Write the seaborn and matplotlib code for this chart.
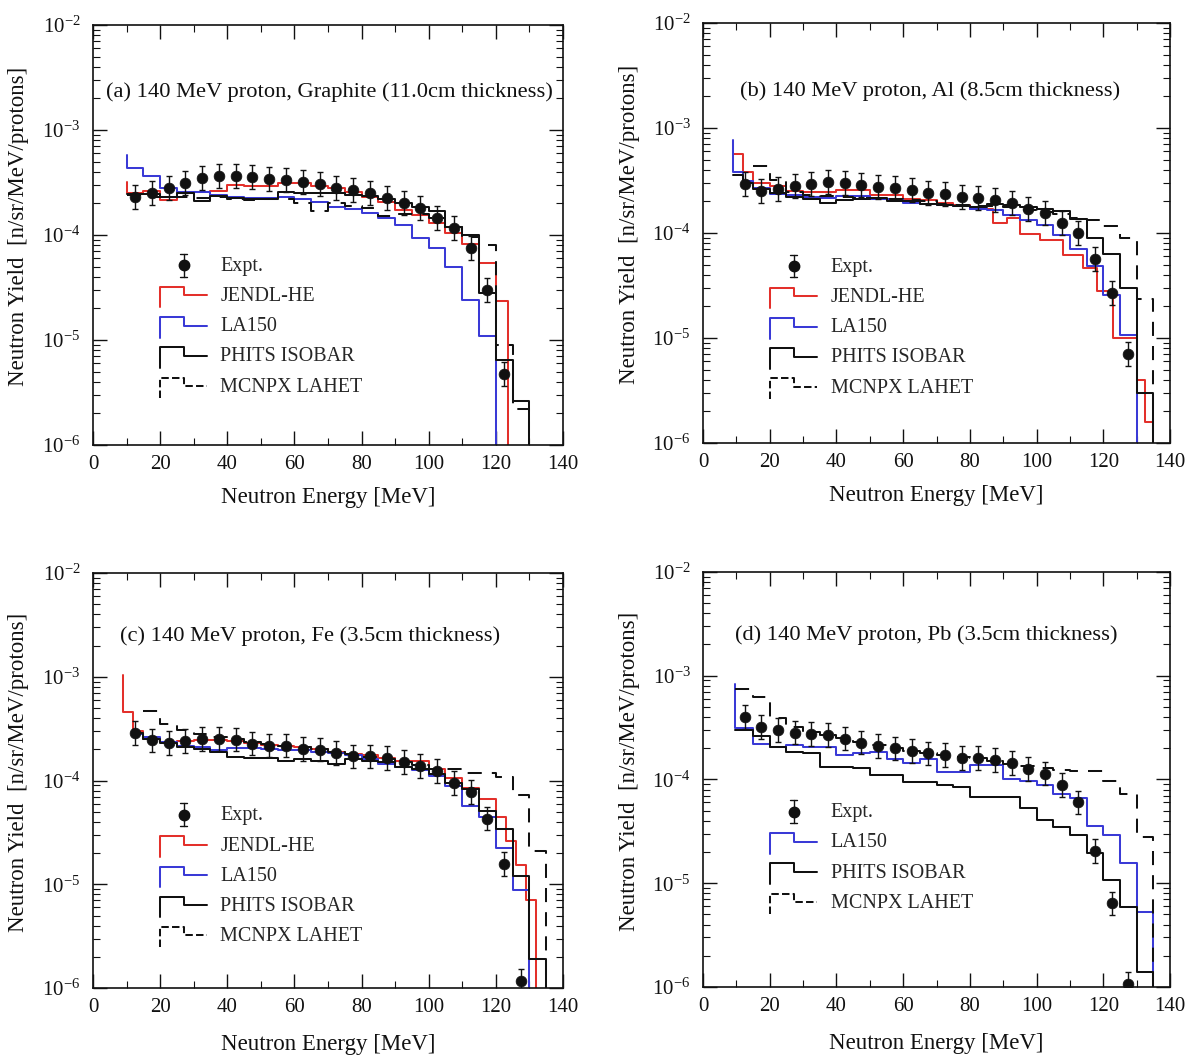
import numpy as np
import pandas as pd
import matplotlib
matplotlib.use("Agg")
import matplotlib.pyplot as plt
import seaborn as sns
from matplotlib.lines import Line2D
from matplotlib.legend_handler import HandlerBase
from matplotlib.ticker import LogLocator, MultipleLocator, NullFormatter

# ---------------- data ----------------
E_EXPT = [12.5, 17.5, 22.5, 27.5, 32.5, 37.5, 42.5, 47.5, 52.5, 57.5, 62.5, 67.5,
          72.5, 77.5, 82.5, 87.5, 92.5, 97.5, 102.5, 107.5, 112.5, 117.5, 122.5, 127.5]
ERR_FACTOR = 1.3

EDGES_A = [10, 15, 20, 25, 30, 35, 40, 45, 50, 55, 60, 65, 70, 75, 80, 85, 90, 95,
           100, 105, 110, 115, 120, 125, 130]
EDGES_BC = [9, 12, 15, 20, 25, 30, 35, 40, 45, 50, 55, 60, 65, 70, 75, 80, 85, 90, 95,
            100, 105, 110, 115, 120, 125, 130, 135]
EDGES_B_JENDL = [9, 12, 15, 20, 25, 30, 35, 40, 45, 50, 55, 60, 65, 70, 75, 80, 87, 91,
                 95, 101, 108, 114, 118, 123, 130, 132.5, 135]
EDGES_C_JENDL = [9, 12, 15, 20, 25, 30, 35, 40, 45, 50, 55, 60, 65, 70, 75, 80, 85, 90,
                 95, 100, 105, 110, 115, 120, 123, 126, 129, 132]
EDGES_D = [9.5, 15, 20, 25, 30, 35, 40, 45, 50, 55, 60, 65, 70, 75, 80, 85, 90, 95,
           100, 105, 110, 115, 120, 125, 130, 135]

# (a) Graphite
a_expt = [2.32e-4, 2.49e-4, 2.79e-4, 3.10e-4, 3.47e-4, 3.65e-4, 3.65e-4, 3.54e-4, 3.39e-4,
          3.34e-4, 3.18e-4, 3.04e-4, 2.82e-4, 2.68e-4, 2.49e-4, 2.23e-4, 2.03e-4, 1.80e-4,
          1.44e-4, 1.16e-4, 7.5e-5, 2.99e-5, 4.7e-6]
a_jendl = [2.5e-4, 2.65e-4, 2.15e-4, 2.5e-4, 2.55e-4, 2.65e-4, 3.0e-4, 2.95e-4, 2.95e-4,
           3.15e-4, 3.1e-4, 2.95e-4, 2.8e-4, 2.55e-4, 2.32e-4, 2.07e-4, 1.73e-4, 1.55e-4,
           1.29e-4, 1.05e-4, 8.2e-5, 5.4e-5, 2.35e-5, None]
a_la150 = [4.3e-4, 3.65e-4, 2.8e-4, 2.59e-4, 2.59e-4, 2.4e-4, 2.32e-4, 2.27e-4, 2.27e-4,
           2.32e-4, 2.2e-4, 2.07e-4, 1.85e-4, 1.75e-4, 1.61e-4, 1.44e-4, 1.24e-4, 9.3e-5,
           7.6e-5, 5.0e-5, 2.4e-5, 1.1e-5, None, None]
a_phits = [2.45e-4, 2.45e-4, 2.3e-4, 2.5e-4, 2.1e-4, 2.35e-4, 2.25e-4, 2.2e-4, 2.2e-4,
           2.55e-4, 2.5e-4, 2.5e-4, 2.5e-4, 2.4e-4, 2.35e-4, 2.2e-4, 2.0e-4, 1.85e-4,
           1.7e-4, 1.2e-4, 1.0e-4, 2.8e-5, 6.5e-6, 2.6e-6]
a_mcnpx = [2.4e-4, 2.3e-4, 2.3e-4, 2.3e-4, 2.25e-4, 2.3e-4, 2.2e-4, 2.15e-4, 2.2e-4,
           2.2e-4, 2.0e-4, 1.7e-4, 2.0e-4, 1.9e-4, 1.8e-4, 1.52e-4, 1.6e-4, 1.6e-4,
           1.45e-4, 1.2e-4, 9.5e-5, 8.0e-5, 9e-6, 2.2e-6]

# (b) Al
b_expt = [2.93e-4, 2.53e-4, 2.61e-4, 2.8e-4, 2.93e-4, 3.08e-4, 2.97e-4, 2.86e-4, 2.76e-4,
          2.66e-4, 2.57e-4, 2.39e-4, 2.33e-4, 2.22e-4, 2.17e-4, 2.06e-4, 1.92e-4, 1.68e-4,
          1.54e-4, 1.25e-4, 1.0e-4, 5.7e-5, 2.66e-5, 7.0e-6]
b_jendl = [5.7e-4, 3.84e-4, 3.0e-4, 2.8e-4, 2.5e-4, 2.45e-4, 2.45e-4, 2.55e-4, 2.55e-4,
           2.3e-4, 2.3e-4, 2.1e-4, 2.05e-4, 1.95e-4, 1.85e-4, 1.68e-4, 1.24e-4, 1.38e-4,
           9.8e-5, 8.6e-5, 6.2e-5, 4.6e-5, 2.8e-5, 1.0e-5, 4.0e-6, 1.6e-6]
b_la150 = [3.8e-4, 3.1e-4, 2.7e-4, 2.35e-4, 2.3e-4, 2.2e-4, 2.15e-4, 2.25e-4, 2.25e-4,
           2.1e-4, 2.1e-4, 1.95e-4, 1.9e-4, 1.85e-4, 1.8e-4, 1.7e-4, 1.66e-4, 1.48e-4,
           1.33e-4, 1.19e-4, 9.6e-5, 7.1e-5, 4.8e-5, 2.57e-5, 1.07e-5, None]
b_phits = [3.6e-4, 3.0e-4, 2.6e-4, 2.4e-4, 2.2e-4, 2.1e-4, 1.95e-4, 2.05e-4, 2.1e-4,
           2.15e-4, 2.0e-4, 2.0e-4, 1.9e-4, 1.85e-4, 1.8e-4, 1.75e-4, 1.9e-4, 1.85e-4,
           1.75e-4, 1.7e-4, 1.62e-4, 1.36e-4, 8.9e-5, 6.3e-5, 2.97e-5, 3.0e-6]
b_mcnpx = [None, None, 4.3e-4, 3.2e-4, 2.45e-4, 2.3e-4, 2.25e-4, 2.2e-4, 2.15e-4,
           2.15e-4, 2.1e-4, 2.05e-4, 2.0e-4, 1.9e-4, 1.85e-4, 1.8e-4, 1.8e-4, 1.75e-4,
           1.65e-4, 1.6e-4, 1.5e-4, 1.4e-4, 1.33e-4, 1.17e-4, 9.0e-5, 2.35e-5]

# (c) Fe
c_expt = [2.87e-4, 2.44e-4, 2.3e-4, 2.39e-4, 2.52e-4, 2.52e-4, 2.48e-4, 2.27e-4, 2.17e-4,
          2.17e-4, 2.02e-4, 1.99e-4, 1.85e-4, 1.71e-4, 1.71e-4, 1.65e-4, 1.5e-4, 1.39e-4,
          1.23e-4, 9.5e-5, 7.7e-5, 4.3e-5, 1.56e-5, 1.17e-6]
c_jendl = [4.6e-4, 3.0e-4, 2.5e-4, 2.35e-4, 2.4e-4, 2.45e-4, 2.45e-4, 2.4e-4, 2.3e-4,
           2.2e-4, 2.15e-4, 2.1e-4, 2.0e-4, 1.9e-4, 1.8e-4, 1.75e-4, 1.65e-4, 1.55e-4,
           1.55e-4, 1.3e-4, 1.05e-4, 8.5e-5, 6.6e-5, 4.5e-5, 2.6e-5, 1.55e-5, 7.0e-6]
c_la150 = [None, 2.8e-4, 2.6e-4, 2.35e-4, 2.15e-4, 2.1e-4, 1.95e-4, 2.05e-4, 2.05e-4,
           2.0e-4, 1.95e-4, 1.95e-4, 1.9e-4, 1.85e-4, 1.75e-4, 1.6e-4, 1.45e-4, 1.35e-4,
           1.25e-4, 1.1e-4, 8.8e-5, 5.7e-5, 4.5e-5, 2.25e-5, 8.9e-6, None]
c_phits = [None, 2.9e-4, 2.5e-4, 2.3e-4, 2.1e-4, 2.0e-4, 1.9e-4, 1.7e-4, 1.65e-4,
           1.65e-4, 1.55e-4, 1.6e-4, 1.55e-4, 1.45e-4, 1.6e-4, 1.55e-4, 1.5e-4, 1.35e-4,
           1.3e-4, 1.15e-4, 9.5e-5, 8.2e-5, 5.1e-5, 3.4e-5, 1.2e-5, 1.9e-6]
c_mcnpx = [None, None, 4.7e-4, 3.5e-4, 3.05e-4, 2.8e-4, 2.6e-4, 2.5e-4, 2.35e-4,
           2.25e-4, 2.15e-4, 2.1e-4, 2.0e-4, 1.9e-4, 1.8e-4, 1.7e-4, 1.6e-4, 1.5e-4,
           1.4e-4, 1.3e-4, 1.28e-4, 1.17e-4, 1.17e-4, 1.09e-4, 7.3e-5, 2.1e-5]

# (d) Pb
d_expt = [4.0e-4, 3.21e-4, 2.98e-4, 2.83e-4, 2.73e-4, 2.67e-4, 2.48e-4, 2.27e-4, 2.11e-4,
          1.99e-4, 1.87e-4, 1.78e-4, 1.71e-4, 1.62e-4, 1.62e-4, 1.53e-4, 1.45e-4, 1.26e-4,
          1.14e-4, 8.8e-5, 6.0e-5, 2.05e-5, 6.4e-6, 1.08e-6]
d_la150 = [3.1e-4, 2.2e-4, 2.06e-4, 2.14e-4, 2.06e-4, 2.06e-4, 1.71e-4, 1.78e-4, 1.85e-4,
           1.59e-4, 1.43e-4, 1.59e-4, 1.19e-4, 1.19e-4, 1.37e-4, 1.37e-4, 1.02e-4, 9.6e-5,
           8.8e-5, 7.3e-5, 6.6e-5, 3.6e-5, 2.9e-5, 1.56e-5, 5.3e-6]
d_phits = [3.0e-4, 2.6e-4, 2.06e-4, 1.85e-4, 1.8e-4, 1.32e-4, 1.32e-4, 1.29e-4, 1.1e-4,
           1.1e-4, 9.5e-5, 9.5e-5, 8.8e-5, 8.5e-5, 6.8e-5, 6.8e-5, 6.8e-5, 5.3e-5,
           4.1e-5, 3.5e-5, 2.9e-5, 1.94e-5, 1.08e-5, 5.9e-6, 1.4e-6]
d_mcnpx = [7.5e-4, 6.2e-4, 3.9e-4, 3.2e-4, 2.9e-4, 2.7e-4, 2.5e-4, 2.3e-4, 2.15e-4,
           2.0e-4, 1.9e-4, 1.8e-4, 1.72e-4, 1.65e-4, 1.6e-4, 1.5e-4, 1.42e-4, 1.35e-4,
           1.3e-4, 1.23e-4, 1.22e-4, 1.2e-4, 9.7e-5, 7.3e-5, 2.8e-5]

TITLES = ["(a) 140 MeV proton, Graphite (11.0cm thickness)",
          "(b) 140 MeV proton, Al (8.5cm thickness)",
          "(c) 140 MeV proton, Fe (3.5cm thickness)",
          "(d) 140 MeV proton, Pb (3.5cm thickness)"]
X_TICKS = [0, 20, 40, 60, 80, 100, 120, 140]

# ---------------- style ----------------
sns.set_theme(style="ticks")
plt.rcParams["font.family"] = ["Liberation Serif", "DejaVu Serif"]
plt.rcParams["mathtext.fontset"] = "stix"
RED = "#e3302b"
BLUE = "#3a3ad6"
BLACK = "#111111"
LW = 1.45
FLOOR = 1e-9

STYLE = {
    "JENDL-HE": dict(color=RED, ls="-"),
    "LA150": dict(color=BLUE, ls="-"),
    "PHITS ISOBAR": dict(color=BLACK, ls="-"),
    "MCNPX LAHET": dict(color=BLACK, ls=(0, (7, 5))),
}

PANELS = [
    dict(expt=a_expt, series=[("JENDL-HE", EDGES_A, a_jendl, 3.2e-4, 123.5),
                              ("LA150", EDGES_A, a_la150, 5.8e-4, None),
                              ("PHITS ISOBAR", EDGES_A, a_phits, None, None),
                              ("MCNPX LAHET", EDGES_A, a_mcnpx, None, None)]),
    dict(expt=b_expt, series=[("JENDL-HE", EDGES_B_JENDL, b_jendl, 7.5e-4, None),
                              ("LA150", EDGES_BC, b_la150, 7.7e-4, None),
                              ("PHITS ISOBAR", EDGES_BC, b_phits, None, None),
                              ("MCNPX LAHET", EDGES_BC, b_mcnpx, None, None)]),
    dict(expt=c_expt, series=[("JENDL-HE", EDGES_C_JENDL, c_jendl, 1.05e-3, None),
                              ("LA150", EDGES_BC, c_la150, None, None),
                              ("PHITS ISOBAR", EDGES_BC, c_phits, None, None),
                              ("MCNPX LAHET", EDGES_BC, c_mcnpx, None, None)]),
    dict(expt=d_expt, series=[("LA150", EDGES_D, d_la150, 8.4e-4, None),
                              ("PHITS ISOBAR", EDGES_D, d_phits, None, None),
                              ("MCNPX LAHET", EDGES_D, d_mcnpx, None, None)]),
]

# axes rectangles (figure fraction)
RECTS = [[0.078, 0.5798, 0.3943, 0.3966],
         [0.5898, 0.5817, 0.3918, 0.3966],
         [0.078, 0.0670, 0.3943, 0.3919],
         [0.5898, 0.0680, 0.3918, 0.3919]]
LEG_ANCHOR = [(0.143, 0.448), (0.144, 0.441), (0.143, 0.438), (0.144, 0.443)]
TITLE_POS = [(0.028, 0.840), (0.079, 0.838), (0.057, 0.848), (0.069, 0.848)]


def hist_xy(edges, vals, spike=None, end=None):
    idx = [i for i, v in enumerate(vals) if v is not None]
    i0, i1 = idx[0], idx[-1]
    e = list(edges[i0:i1 + 2])
    v = list(vals[i0:i1 + 1])
    if end is not None:
        e[-1] = end
    xs = e[:-1] + [e[-1], e[-1]]
    ys = v + [v[-1], FLOOR]
    if spike is not None:
        xs = [e[0]] + xs
        ys = [spike] + ys
    return xs, ys


class StepHandler(HandlerBase):
    def create_artists(self, legend, orig_handle, xdescent, ydescent, width, height,
                       fontsize, trans):
        x0, y0 = -xdescent, -ydescent
        xs = [x0, x0, x0 + 0.5 * width, x0 + 0.5 * width, x0 + width]
        ys = [y0 - 0.45 * height, y0 + 1.0 * height, y0 + 1.0 * height,
              y0 + 0.4 * height, y0 + 0.4 * height]
        ln = Line2D(xs, ys, color=orig_handle.get_color(),
                    linestyle=orig_handle.get_linestyle(),
                    linewidth=orig_handle.get_linewidth())
        ln.set_transform(trans)
        return [ln]


class ExptHandler(HandlerBase):
    def create_artists(self, legend, orig_handle, xdescent, ydescent, width, height,
                       fontsize, trans):
        x0, y0 = -xdescent, -ydescent
        xc = x0 + 0.5 * width
        yc = y0 + 0.4 * height
        bar = Line2D([xc, xc], [yc - 0.8 * height, yc + 0.8 * height], color=BLACK, lw=1.0)
        cap1 = Line2D([xc - 2.5, xc + 2.5], [yc + 0.8 * height] * 2, color=BLACK, lw=1.0)
        cap2 = Line2D([xc - 2.5, xc + 2.5], [yc - 0.8 * height] * 2, color=BLACK, lw=1.0)
        mk = Line2D([xc], [yc], marker="o", color=BLACK, markersize=7.5, linestyle="none")
        for a in (bar, cap1, cap2, mk):
            a.set_transform(trans)
        return [bar, cap1, cap2, mk]


fig = plt.figure(figsize=(11.92, 10.59), dpi=100)

for k, panel in enumerate(PANELS):
    ax = fig.add_axes(RECTS[k])
    ax.set_yscale("log")

    handles = []
    expt_handle = Line2D([], [], color=BLACK, marker="o", linestyle="none")
    handles.append(expt_handle)
    labels = ["Expt."]

    for name, edges, vals, spike, end in panel["series"]:
        xs, ys = hist_xy(edges, vals, spike, end)
        st = STYLE[name]
        sns.lineplot(x=xs, y=ys, sort=False, estimator=None, drawstyle="steps-post",
                     color=st["color"], linestyle=st["ls"], linewidth=LW, ax=ax,
                     zorder=2)
        handles.append(Line2D([], [], color=st["color"], linestyle=st["ls"], linewidth=LW))
        labels.append(name)

    y = np.array(panel["expt"])
    x = np.array(E_EXPT[:len(y)])
    yerr = np.vstack([y - y / ERR_FACTOR, y * ERR_FACTOR - y])
    ax.errorbar(x, y, yerr=yerr, fmt="none", ecolor=BLACK, elinewidth=1.0,
                capsize=2.5, capthick=1.0, zorder=3)
    df = pd.DataFrame({"E": x, "Y": y})
    sns.scatterplot(data=df, x="E", y="Y", color=BLACK, s=60, edgecolor=BLACK,
                    linewidth=0.5, ax=ax, zorder=4, legend=False)

    ax.set_xlim(0, 140)
    ax.set_ylim(1e-6, 1e-2)
    ax.set_xticks(X_TICKS)
    ax.xaxis.set_minor_locator(MultipleLocator(10))
    ax.yaxis.set_major_locator(LogLocator(base=10, numticks=10))
    ax.yaxis.set_minor_locator(LogLocator(base=10, subs=np.arange(2, 10), numticks=50))
    ax.yaxis.set_minor_formatter(NullFormatter())
    ax.tick_params(which="both", direction="in", top=True, right=True, colors=BLACK,
                   labelsize=15)
    ax.tick_params(which="major", length=10, width=1.0)
    ax.tick_params(which="minor", length=5, width=0.8)
    ax.tick_params(axis="x", pad=7)
    ax.tick_params(axis="y", pad=9)
    for sp in ax.spines.values():
        sp.set_linewidth(1.2)
        sp.set_color(BLACK)

    ax.set_xlabel("Neutron Energy [MeV]", fontsize=16.5, color=BLACK)
    ax.set_ylabel("Neutron Yield  [n/sr/MeV/protons]", fontsize=16.5, color=BLACK)
    ax.xaxis.set_label_coords(0.5, -0.125 if k < 2 else -0.137)
    ax.xaxis.label.set_verticalalignment("center")
    ax.yaxis.set_label_coords(-0.158, 0.52)
    ax.yaxis.label.set_verticalalignment("center")

    ax.text(TITLE_POS[k][0], TITLE_POS[k][1], TITLES[k], transform=ax.transAxes,
            ha="left", va="center", fontsize=16.2, color=BLACK)

    hmap = {expt_handle: ExptHandler(), Line2D: StepHandler()}
    leg = ax.legend(handles, labels, handler_map=hmap, loc="upper left",
                    bbox_to_anchor=LEG_ANCHOR[k], frameon=False, fontsize=14.5,
                    handlelength=2.34, handletextpad=0.65, labelspacing=0.55,
                    borderpad=0.0, borderaxespad=0.0)

fig.savefig("out.png", dpi=100)
